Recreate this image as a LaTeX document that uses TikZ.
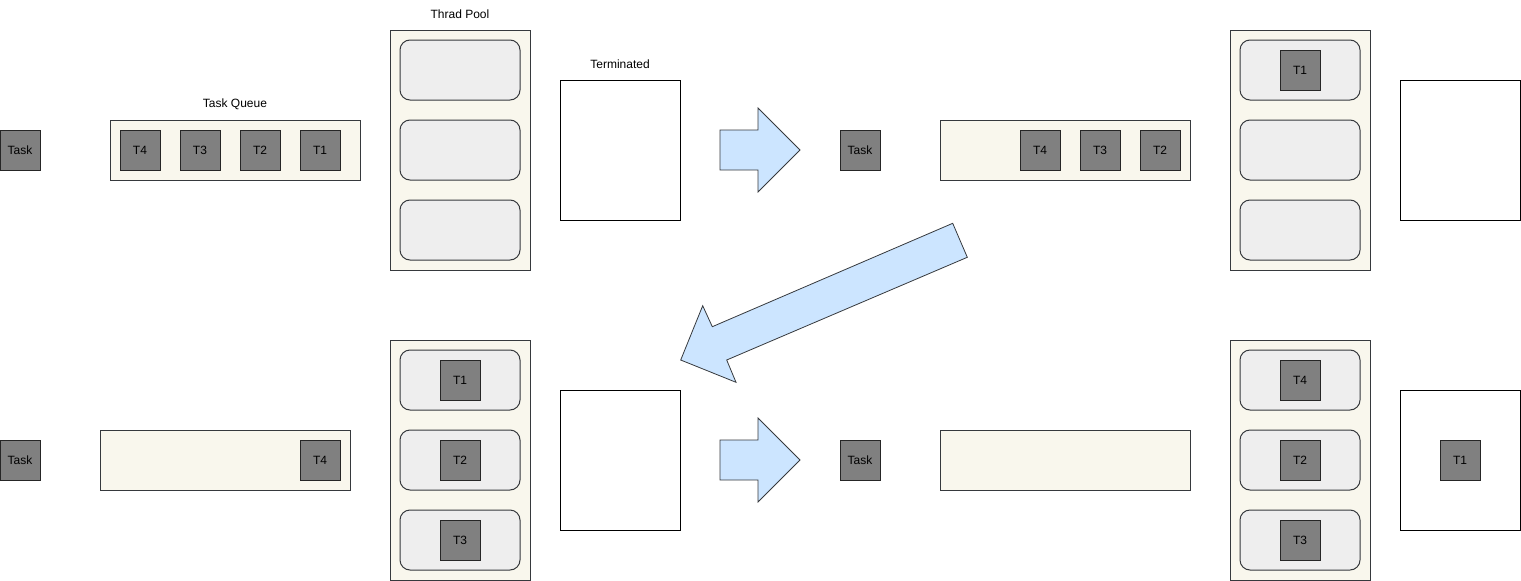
\documentclass[tikz,border=0pt]{standalone}
\usepackage{fontspec}
\setmainfont{Liberation Sans}
\definecolor{tgray}{HTML}{808080}
\definecolor{cream}{HTML}{F9F7ED}
\definecolor{slotgray}{HTML}{EEEEEE}
\definecolor{dkline}{HTML}{36393D}
\definecolor{arrowblue}{HTML}{CCE5FF}
\begin{document}
\begin{tikzpicture}[x=1pt,y=-1pt,line width=1pt,
  every node/.style={font=\fontsize{12}{14}\selectfont, inner sep=0pt},
  task/.style={draw=black!85, fill=tgray, minimum width=40pt, minimum height=40pt},
  queue/.style={draw=dkline, fill=cream, minimum width=250pt, minimum height=60pt},
  pool/.style={draw=dkline, fill=cream, minimum width=140pt, minimum height=240pt},
  slot/.style={draw=dkline, fill=slotgray, rounded corners=10pt, minimum width=120pt, minimum height=60pt},
  term/.style={draw=black, fill=white, minimum width=120pt, minimum height=140pt},
  lbl/.style={text=black},
  bigarrow/.style={draw=dkline, fill=arrowblue, line width=0.8pt, line join=miter}]
\useasboundingbox (0,0) rectangle (1521,581);

% ---------- top-left state ----------
\node[task] (taskA) at (20,150) {Task};
\node[queue] (queueA) at (235,150) {};
\node[lbl] (queueAlbl) at (235,104) {Task Queue};
\node[task] (qA4) at (140,150) {T4};
\node[task] (qA3) at (200,150) {T3};
\node[task] (qA2) at (260,150) {T2};
\node[task] (qA1) at (320,150) {T1};
\node[pool] (poolA) at (460,150) {};
\node[lbl] (poolAlbl) at (460,14) {Thrad Pool};
\node[slot] (sA1) at (460,70) {};
\node[slot] (sA2) at (460,150) {};
\node[slot] (sA3) at (460,230) {};
\node[term] (termA) at (620,150) {};
\node[lbl] (termAlbl) at (620,64) {Terminated};

% ---------- top-right state ----------
\node[task] (taskB) at (860,150) {Task};
\node[queue] (queueB) at (1065,150) {};
\node[task] (qB4) at (1040,150) {T4};
\node[task] (qB3) at (1100,150) {T3};
\node[task] (qB2) at (1160,150) {T2};
\node[pool] (poolB) at (1300,150) {};
\node[slot] (sB1) at (1300,70) {};
\node[slot] (sB2) at (1300,150) {};
\node[slot] (sB3) at (1300,230) {};
\node[task] (pB1) at (1300,70) {T1};
\node[term] (termB) at (1460,150) {};

% ---------- bottom-left state ----------
\node[task] (taskC) at (20,460) {Task};
\node[queue] (queueC) at (225,460) {};
\node[task] (qC4) at (320,460) {T4};
\node[pool] (poolC) at (460,460) {};
\node[slot] (sC1) at (460,380) {};
\node[slot] (sC2) at (460,460) {};
\node[slot] (sC3) at (460,540) {};
\node[task] (pC1) at (460,380) {T1};
\node[task] (pC2) at (460,460) {T2};
\node[task] (pC3) at (460,540) {T3};
\node[term] (termC) at (620,460) {};

% ---------- bottom-right state ----------
\node[task] (taskD) at (860,460) {Task};
\node[queue] (queueD) at (1065,460) {};
\node[pool] (poolD) at (1300,460) {};
\node[slot] (sD1) at (1300,380) {};
\node[slot] (sD2) at (1300,460) {};
\node[slot] (sD3) at (1300,540) {};
\node[task] (pD4) at (1300,380) {T4};
\node[task] (pD2) at (1300,460) {T2};
\node[task] (pD3) at (1300,540) {T3};
\node[term] (termD) at (1460,460) {};
\node[task] (tD1) at (1460,460) {T1};

% ---------- transition arrows ----------
\draw[bigarrow] (720,130) -- (758,130) -- (758,108) -- (800,150) -- (758,192) -- (758,170) -- (720,170) -- cycle;
\draw[bigarrow] (720,440) -- (758,440) -- (758,418) -- (800,460) -- (758,502) -- (758,480) -- (720,480) -- cycle;
\draw[bigarrow] (952.7,223.3) -- (967.3,257.3) -- (726.7,360) -- (736,382.3) -- (680.7,360) -- (702.7,305.7) -- (712.3,326.7) -- cycle;
\end{tikzpicture}
\end{document}
